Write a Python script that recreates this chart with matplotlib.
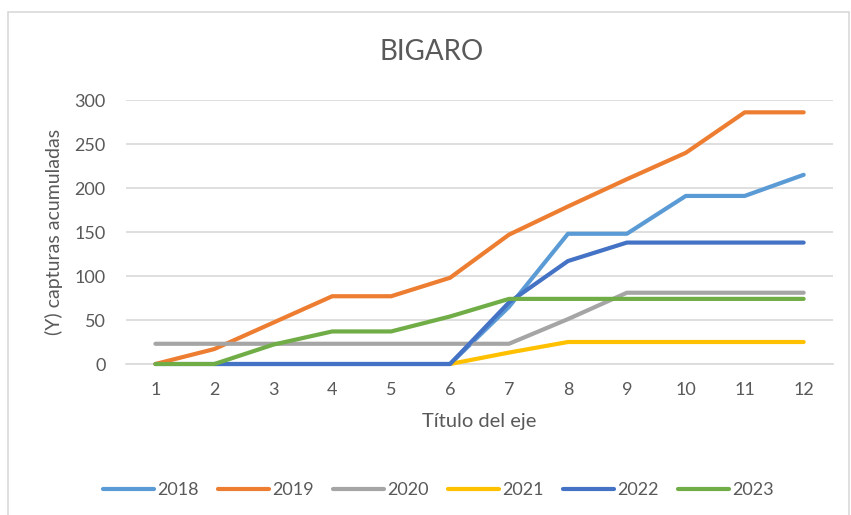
import matplotlib.pyplot as plt
from matplotlib.patches import Rectangle

months = list(range(1, 13))
years = ['2018', '2019', '2020', '2021', '2022', '2023']
colors = ['#5B9BD5', '#ED7D31', '#A5A5A5', '#FFC000', '#4472C4', '#70AD47']

s2018 = [0, 0, 0, 0, 0, 0, 65, 148, 148, 191, 191, 215]
s2019 = [0, 17, 47, 77, 77, 98, 147, 179, 210, 240, 286, 286]
s2020 = [23, 23, 23, 23, 23, 23, 23, 51, 81, 81, 81, 81]
s2021 = [None, None, None, None, None, 0, 13, 25, 25, 25, 25, 25]
s2022 = [None, 0, 0, 0, 0, 0, 70, 117, 138, 138, 138, 138]
s2023 = [0, 0, 22, 37, 37, 54, 74, 74, 74, 74, 74, 74]
series = [s2018, s2019, s2020, s2021, s2022, s2023]

plt.rcParams['font.family'] = ['Lato', 'DejaVu Sans']
text_col = '#595959'

fig = plt.figure(figsize=(8.51, 5.15), dpi=100)
ax = fig.add_axes([0.148, 0.2932, 0.831, 0.5126])

for name, vals, c in zip(years, series, colors):
    xs = [m for m, v in zip(months, vals) if v is not None]
    ys = [v for v in vals if v is not None]
    ax.plot(xs, ys, color=c, lw=3, label=name, solid_capstyle='round',
            solid_joinstyle='round', clip_on=False, zorder=3)

ax.set_xlim(0.5, 12.5)
ax.set_ylim(0, 300)
ax.set_xticks(months)
ax.set_yticks(range(0, 301, 50))
ax.grid(axis='y', color='#D9D9D9', lw=1.2)
ax.set_axisbelow(True)
for sp in ['top', 'right', 'left']:
    ax.spines[sp].set_visible(False)
ax.spines['bottom'].set_color('#D9D9D9')
ax.spines['bottom'].set_linewidth(1.2)
ax.spines['bottom'].set_zorder(1)
ax.tick_params(length=0, labelsize=13, colors=text_col)
ax.tick_params(axis='y', pad=14.5)
ax.tick_params(axis='x', pad=13)

fig.text(432 / 851, 1 - 52 / 515, 'BIGARO', fontsize=20, color=text_col, ha='center', va='center')
ax.set_ylabel('(Y) capturas acumuladas', fontsize=14, color=text_col, labelpad=8)
ax.set_xlabel('Título del eje', fontsize=14.5, color=text_col, labelpad=11)

fig.legend(loc='center', bbox_to_anchor=(0.515, 0.0485), ncol=6, frameon=False,
           fontsize=13, handlelength=2.8, columnspacing=1.1, handletextpad=0.17,
           labelcolor=text_col)

fig.patches.append(Rectangle((8 / 851, -0.1), 841 / 851, 1.1 - 12 / 515, transform=fig.transFigure,
                             fill=False, edgecolor='#D9D9D9', lw=1.2))

fig.savefig('out.png', dpi=100)
